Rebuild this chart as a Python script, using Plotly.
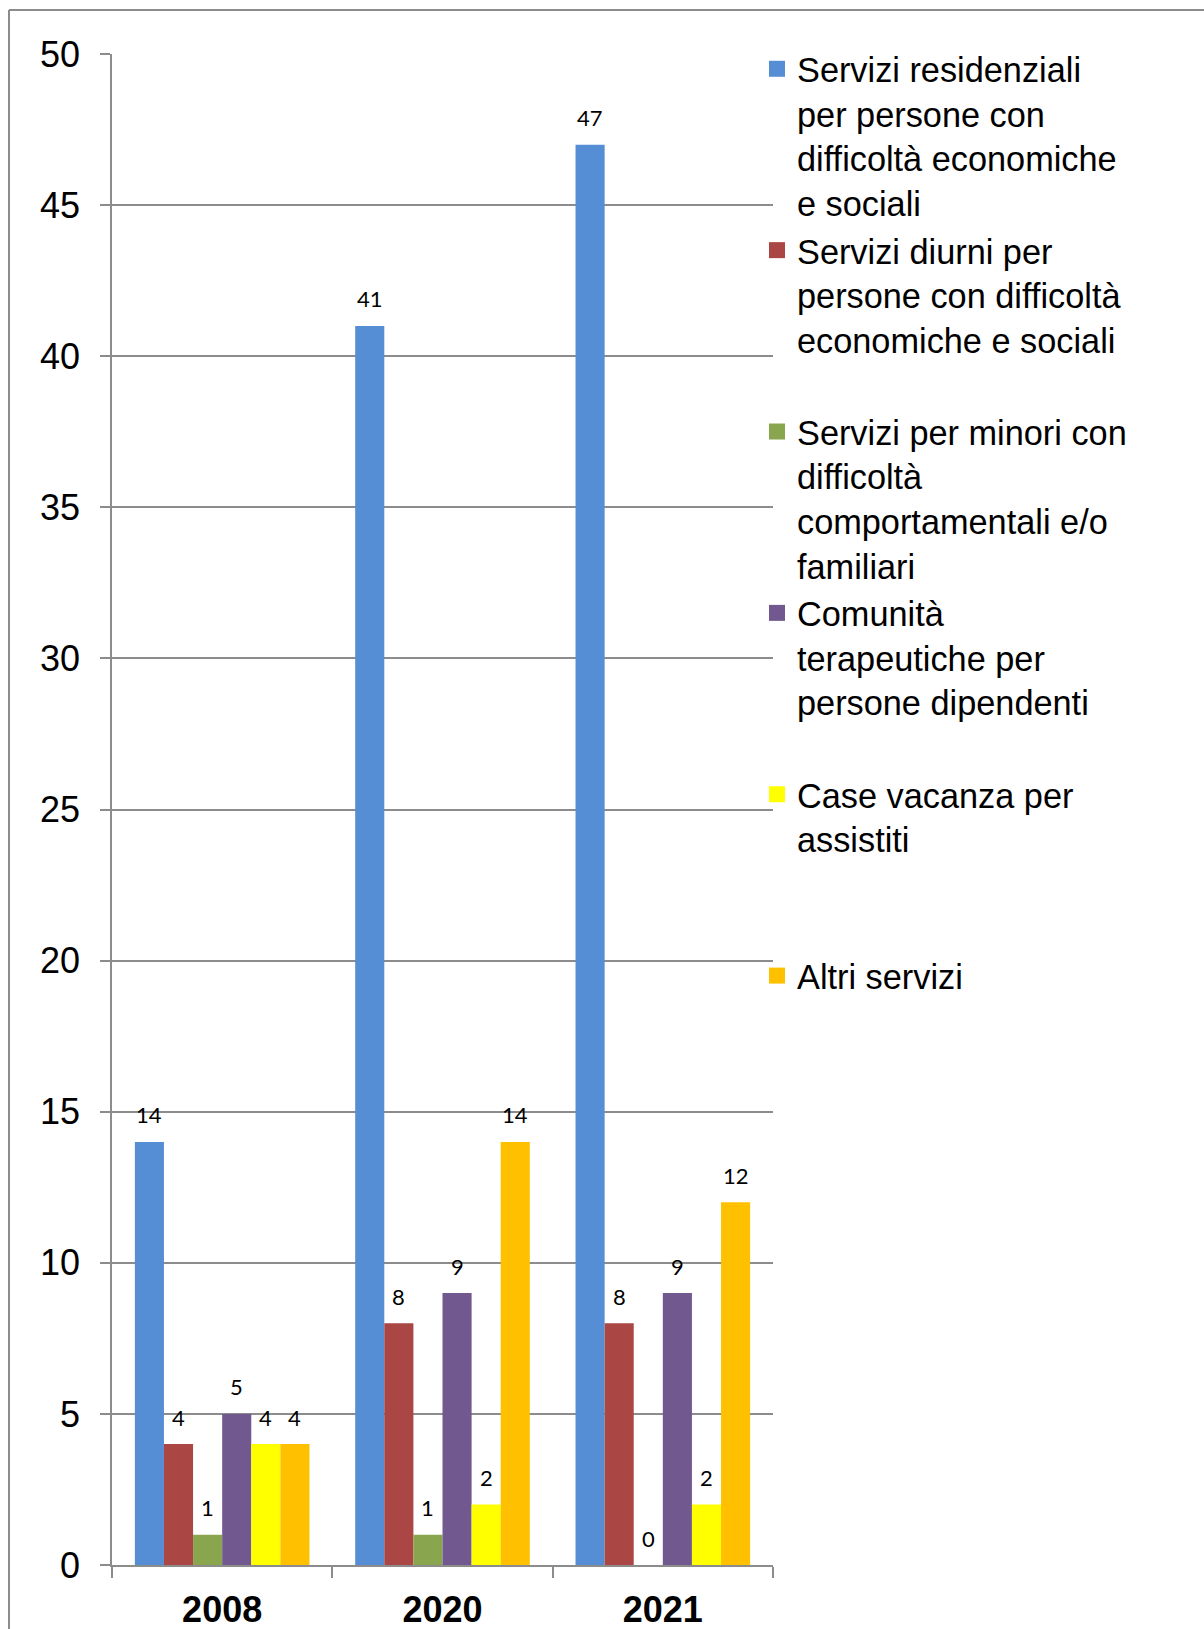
import plotly.graph_objects as go

years = ["2008", "2020", "2021"]
series_names = [
    "Servizi residenziali<br>per persone con<br>difficoltà economiche<br>e sociali",
    "Servizi diurni per<br>persone con difficoltà<br>economiche e sociali<br> ",
    "Servizi per minori con<br>difficoltà<br>comportamentali e/o<br>familiari",
    "Comunità<br>terapeutiche per<br>persone dipendenti<br> ",
    "Case vacanza per<br>assistiti<br> <br> ",
    "Altri servizi<br> <br> <br> ",
]
residenziali = [14, 41, 47]
diurni = [4, 8, 8]
minori = [1, 1, 0]
comunita = [5, 9, 9]
case_vacanza = [4, 2, 2]
altri = [4, 14, 12]
series_values = [residenziali, diurni, minori, comunita, case_vacanza, altri]
colors = ["#558ED5", "#AA4643", "#89A54E", "#71588F", "#FFFF00", "#FFC000"]
y_ticks = [0, 5, 10, 15, 20, 25, 30, 35, 40, 45, 50]

W, H = 1204, 1629
L, R, T, B = 112, 1204 - 773, 54, 1629 - 1565
pw, ph = W - L - R, H - T - B
bargap = 0.2075

fig = go.Figure()
for name, vals, col in zip(series_names, series_values, colors):
    fig.add_trace(go.Bar(x=years, y=vals, name=name, marker=dict(color=col, line=dict(width=0)),
                         showlegend=False, cliponaxis=False))
for name, col in zip(series_names, colors):
    fig.add_trace(go.Scatter(x=[None], y=[None], mode="markers", name=name,
                             marker=dict(symbol="square", size=16, color=col)))

# data labels
cat_w = pw / len(years)
n = len(series_values)
bar_w = cat_w * (1 - bargap) / n
for i, vals in enumerate(series_values):
    off = (i - (n - 1) / 2) * bar_w
    for j, v in enumerate(vals):
        fig.add_annotation(x=j, y=v, text=str(v), showarrow=False, xshift=off, yshift=27,
                           yanchor="middle", font=dict(family="Lato", size=22, color="black"))

def px_x(p):
    return (p - L) / pw

def px_y(p):
    return (T + ph - p) / ph

fig.add_shape(type="line", xref="paper", yref="paper", x0=px_x(9), x1=px_x(9), y0=px_y(10), y1=px_y(1640),
              line=dict(color="#8c8c8c", width=2))
fig.add_shape(type="line", xref="paper", yref="paper", x0=px_x(9), x1=px_x(1210), y0=px_y(10), y1=px_y(10),
              line=dict(color="#8c8c8c", width=2))

fig.update_layout(
    width=W, height=H,
    margin=dict(l=L, r=R, t=T, b=B, autoexpand=False),
    paper_bgcolor="white", plot_bgcolor="white",
    barmode="group", bargap=bargap, bargroupgap=0,
    font=dict(family="Liberation Sans", color="black"),
    legend=dict(x=px_x(757), xanchor="left", y=px_y(1139), yanchor="bottom", valign="top",
                font=dict(family="Liberation Sans", size=34.3, color="black"),
                bgcolor="rgba(0,0,0,0)", tracegroupgap=0),
    xaxis=dict(type="category", categoryorder="array", categoryarray=years,
               range=[-0.5, len(years) - 0.5], autorange=False,
               tickson="boundaries", ticks="outside", ticklen=11, tickwidth=1.5,
               tickcolor="#8c8c8c", showline=True, linecolor="#8c8c8c", linewidth=1.5,
               showgrid=False, tickfont=dict(family="Liberation Sans", size=36, color="black", weight="bold"),
               ticklabelstandoff=12),
    yaxis=dict(range=[0, 50], autorange=False, tickvals=y_ticks, ticks="outside", ticklen=10, tickwidth=1.5,
               tickcolor="#8c8c8c", showline=True, linecolor="#8c8c8c", linewidth=1.5,
               showgrid=True, gridcolor="#8c8c8c", gridwidth=1.5, zeroline=False,
               tickfont=dict(family="Liberation Sans", size=36, color="black"),
               ticklabelstandoff=13),
)

fig.write_html("out.html", config={"displayModeBar": False},
               post_script="document.body.style.margin='0px';document.body.style.overflow='hidden';")
